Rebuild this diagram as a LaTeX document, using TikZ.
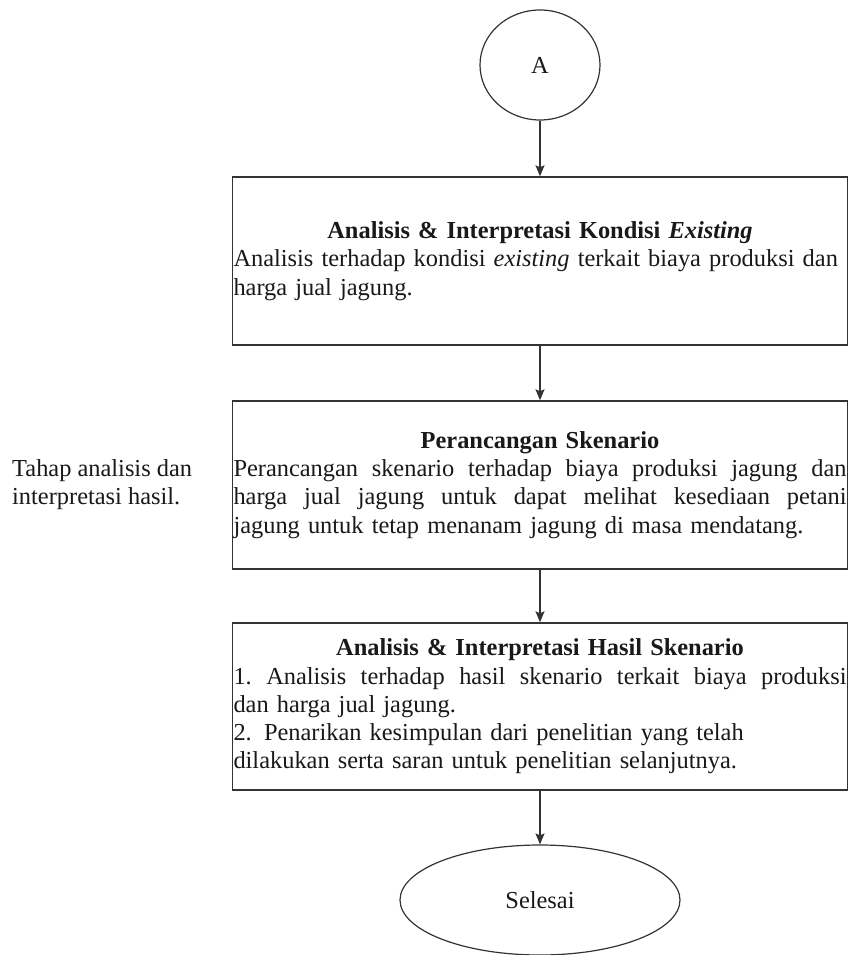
\documentclass[tikz,border=0pt]{standalone}
\usepackage{fontspec}
\setmainfont{Liberation Serif}
\usetikzlibrary{shapes.geometric,arrows.meta}

% a line whose words are spread over the full width
\newcommand{\fullline}[1]{\leavevmode\hbox to \linewidth{#1}}

\tikzset{
  every node/.style={font=\fontsize{24.4}{28.2}\selectfont, text=black!90},
  flowline/.style={line width=1.2pt, draw=black!80, -{Stealth[length=11pt,width=9pt,inset=2pt]}},
  terminal/.style={ellipse, draw=black!80, line width=1.2pt, inner sep=0pt},
  processbox/.style={rectangle, draw=black!80, line width=1.4pt, minimum width=615pt,
    minimum height=168pt, inner xsep=1pt, inner ysep=0pt, text width=613pt, align=left},
  sidenote/.style={anchor=west, align=left, inner sep=0pt}
}

\begin{document}
\begin{tikzpicture}[x=1pt, y=1pt]
  \useasboundingbox[fill=white] (0,0) rectangle (848,-955);

  % start connector
  \node[terminal, minimum width=120pt, minimum height=110pt] (A) at (540,-65) {A};

  % step 1
  \node[processbox] (existing) at (540,-261) {%
    \makebox[\linewidth][c]{\bfseries Analisis \& Interpretasi Kondisi \textit{Existing}}\\
    \makebox[\linewidth][l]{Analisis terhadap kondisi \textit{existing} terkait biaya produksi dan}\\
    \makebox[\linewidth][l]{harga jual jagung.}};

  % step 2
  \node[processbox] (skenario) at (540,-485) {%
    \makebox[\linewidth][c]{\bfseries Perancangan Skenario}\\
    \fullline{Perancangan\hfill skenario\hfill terhadap\hfill biaya\hfill produksi\hfill jagung\hfill dan}\\
    \fullline{harga\hfill jual\hfill jagung\hfill untuk\hfill dapat\hfill melihat\hfill kesediaan\hfill petani}\\
    \makebox[\linewidth][l]{jagung untuk tetap menanam jagung di masa mendatang.}};

  % step 3
  \node[processbox, minimum height=167pt] (hasil) at (540,-706.5) {%
    \makebox[\linewidth][c]{\bfseries Analisis \& Interpretasi Hasil Skenario}\\
    \fullline{1.\hfill Analisis\hfill terhadap\hfill hasil\hfill skenario\hfill terkait\hfill biaya\hfill produksi}\\
    \makebox[\linewidth][l]{dan harga jual jagung.}\\
    \makebox[\linewidth][l]{2. Penarikan kesimpulan dari penelitian yang telah}\\
    \makebox[\linewidth][l]{dilakukan serta saran untuk penelitian selanjutnya.}};

  % end terminal
  \node[terminal, minimum width=280pt, minimum height=110pt] (selesai) at (540,-900) {Selesai};

  % stage label
  \node[sidenote] (tahap) at (12,-485) {Tahap analisis dan\\interpretasi hasil.};

  % connectors
  \draw[flowline] (A) -- (existing);
  \draw[flowline] (existing) -- (skenario);
  \draw[flowline] (skenario) -- (hasil);
  \draw[flowline] (hasil) -- (selesai);
\end{tikzpicture}
\end{document}
